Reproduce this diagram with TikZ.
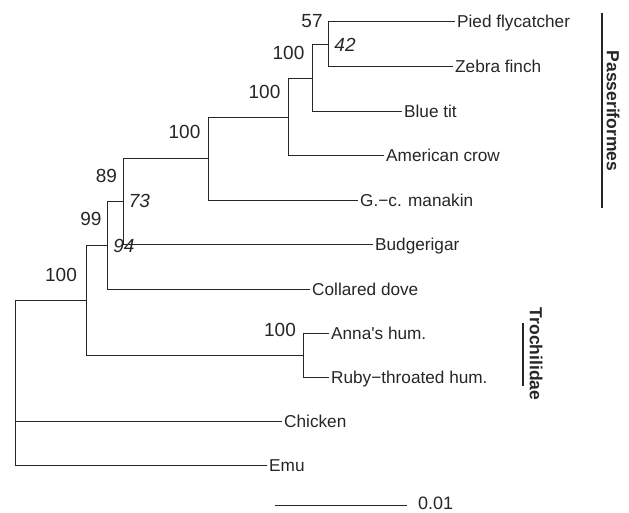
\documentclass[tikz,border=0pt]{standalone}
\usepackage{fontspec}
\setmainfont{Liberation Sans}
\definecolor{ink}{HTML}{262626}
\begin{document}
\begin{tikzpicture}[x=1pt,y=-1pt,
  branch/.style={draw=ink,line width=0.8pt},
  tip/.style={anchor=west,inner xsep=2pt,inner ysep=0pt,text=ink,
    font=\fontsize{17.2}{17.2}\selectfont,text height=12.3pt,text depth=0pt},
  support/.style={inner sep=0pt,text=ink,
    font=\fontsize{19}{19}\selectfont,text height=13.6pt,text depth=0pt},
  supit/.style={support,font=\fontsize{19}{19}\selectfont\itshape},
  cladebar/.style={draw=ink,line width=1.6pt},
  cladename/.style={rotate=-90,inner sep=0pt,text=ink,
    font=\fontsize{17.5}{17.5}\selectfont\bfseries,text height=12.5pt,text depth=0pt}]
\useasboundingbox (0,0) rectangle (629,513);

% leaves
\node[tip] (pied)    at (455,21)  {Pied flycatcher};
\node[tip] (zebra)   at (453,66)  {Zebra finch};
\node[tip] (bluetit) at (402,111) {Blue tit};
\node[tip] (crow)    at (384,155) {American crow};
\node[tip] (manakin) at (358,200) {G.\textminus c. manakin};
\node[tip] (budgie)  at (373,244) {Budgerigar};
\node[tip] (dove)    at (310,289) {Collared dove};
\node[tip] (anna)    at (329,333) {Anna\textquotesingle s hum.};
\node[tip] (ruby)    at (329,377) {Ruby\textminus throated hum.};
\node[tip] (chicken) at (282,421) {Chicken};
\node[tip] (emu)     at (267,465) {Emu};

% internal nodes
\coordinate (nPZ)   at (328,44);
\coordinate (nBT)   at (312,78);
\coordinate (nCrow) at (288,117);
\coordinate (nPass) at (208,158);
\coordinate (nBud)  at (123,201);
\coordinate (nDove) at (107,245);
\coordinate (nNeo)  at (86,300);
\coordinate (nHum)  at (303,355);
\coordinate (root)  at (15,300);

% branches
\draw[branch] (nPZ) |- (pied.west);
\draw[branch] (nPZ) |- (zebra.west);
\draw[branch] (nBT) |- (nPZ);
\draw[branch] (nBT) |- (bluetit.west);
\draw[branch] (nCrow) |- (nBT);
\draw[branch] (nCrow) |- (crow.west);
\draw[branch] (nPass) |- (nCrow);
\draw[branch] (nPass) |- (manakin.west);
\draw[branch] (nBud) |- (nPass);
\draw[branch] (nBud) |- (budgie.west);
\draw[branch] (nDove) |- (nBud);
\draw[branch] (nDove) |- (dove.west);
\draw[branch] (nNeo) |- (nDove);
\draw[branch] (nNeo) |- (nHum);
\draw[branch] (nHum) |- (anna.west);
\draw[branch] (nHum) |- (ruby.west);
\draw[branch] (root) |- (nNeo);
\draw[branch] (root) |- (chicken.west);
\draw[branch] (root) |- (emu.west);

% support values
\node[support] (s57)  at (312,21)    {57};
\node[supit]   (s42)  at (345,45)    {42};
\node[support] (s100a) at (288.5,53) {100};
\node[support] (s100b) at (264.5,92) {100};
\node[support] (s100c) at (184.5,132) {100};
\node[support] (s89)  at (106.5,176) {89};
\node[supit]   (s73)  at (139.5,201) {73};
\node[support] (s99)  at (91,219)    {99};
\node[supit]   (s94)  at (124,246)   {94};
\node[support] (s100d) at (61,275)   {100};
\node[support] (s100e) at (280,330)  {100};

% clade bars
\coordinate (passTop) at (602,13);
\coordinate (passBot) at (602,208);
\draw[cladebar] (passTop) -- (passBot);
\node[cladename] (passName) at (613,111) {Passeriformes};
\coordinate (trocTop) at (523,323);
\coordinate (trocBot) at (523,386);
\draw[cladebar] (trocTop) -- (trocBot);
\node[cladename] (trocName) at (536,354) {Trochilidae};

% scale bar
\coordinate (scaleL) at (275,505);
\coordinate (scaleR) at (407,505);
\draw[branch] (scaleL) -- (scaleR);
\node[tip,font=\fontsize{18}{18}\selectfont,text height=12.9pt,inner xsep=0pt] (scaleLab) at (418,503.5) {0.01};
\end{tikzpicture}
\end{document}
